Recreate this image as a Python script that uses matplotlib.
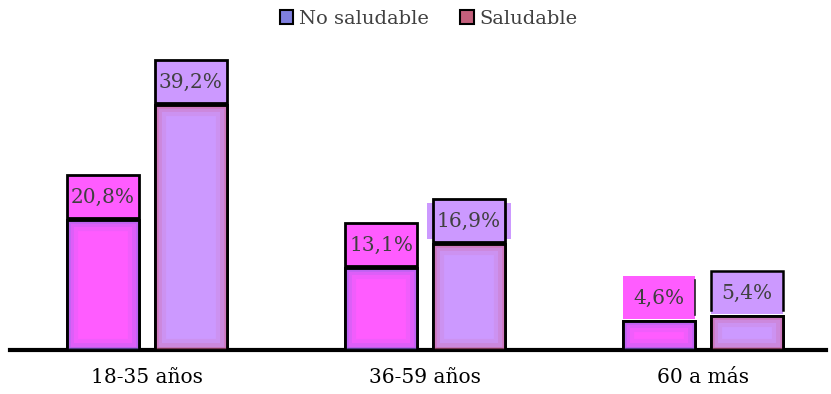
import matplotlib
matplotlib.use("Agg")
import matplotlib.pyplot as plt
from matplotlib.patches import Rectangle, Patch
import numpy as np

# Data
categories = ["18-35 años", "36-59 años", "60 a más"]
saludable = [20.8, 13.1, 4.6]
no_saludable = [39.2, 16.9, 5.4]

# Colours
PINK = "#FF5CFF"
LAVENDER = "#CC99FF"
PINK_GLOW = "#8E6AE8"
LAV_GLOW = "#D0608E"
LEG_NO = "#7F7FDF"
LEG_SI = "#C4607C"
TEXT = "#404040"

plt.rcParams["font.family"] = ["DejaVu Serif"]

W, H = 831, 394
fig = plt.figure(figsize=(W / 100, H / 100), dpi=100)
ax = fig.add_axes([10 / W, 44 / H, 816 / W, 300 / H])

x = np.arange(len(categories))
width = 0.259
off = 0.158
px = 48 / 300  # data units per pixel on the y axis


def glow(bar, colour):
    """Soft inner shading along the bar edges."""
    for lw, a in [(16, 0.12), (10, 0.2), (5, 0.3), (2.5, 0.45)]:
        r = Rectangle(bar.get_xy(), bar.get_width(), bar.get_height(),
                      facecolor="none", edgecolor=colour, linewidth=lw,
                      alpha=a, zorder=3)
        ax.add_patch(r)
        r.set_clip_path(bar)


def label_box(bar, value, colour, border="full"):
    bx = bar.get_x()
    bw = bar.get_width()
    y0 = value + 2 * px
    h = 43 * px
    ax.add_patch(Rectangle((bx, y0), bw, h, facecolor=colour,
                           edgecolor="none", zorder=4))
    if border == "full":
        ax.add_patch(Rectangle((bx, y0), bw, h, facecolor="none",
                               edgecolor="black", linewidth=2, zorder=5))
    elif border == "open":
        ax.plot([bx, bx, bx + bw, bx + bw], [y0 + 4 * px, y0 + h, y0 + h, y0 + 4 * px],
                color="black", lw=1.8, zorder=5, solid_joinstyle="miter")
    elif border == "right":
        ax.plot([bx + bw, bx + bw], [y0 + 4 * px, y0 + h - 4 * px],
                color="#222222", lw=1.2, zorder=5)
    ax.text(bx + bw / 2, y0 + h / 2 - 1 * px,
            f"{value:.1f}%".replace(".", ","), ha="center", va="center",
            fontsize=14.5, color=TEXT, zorder=6)


bars_si = ax.bar(x - off, saludable, width, color=PINK, edgecolor="black",
                 linewidth=2, zorder=2)
bars_no = ax.bar(x + off, no_saludable, width, color=LAVENDER,
                 edgecolor="black", linewidth=2, zorder=2)

for b in bars_si:
    glow(b, PINK_GLOW)
for b in bars_no:
    glow(b, LAV_GLOW)
for b in list(bars_si) + list(bars_no):
    ax.add_patch(Rectangle(b.get_xy(), b.get_width(), b.get_height(),
                           facecolor="none", edgecolor="black", linewidth=2,
                           zorder=4))

borders_si = ["full", "full", "right"]
borders_no = ["full", "full", "open"]
for b, v, s in zip(bars_si, saludable, borders_si):
    label_box(b, v, PINK, s)
for b, v, s in zip(bars_no, no_saludable, borders_no):
    label_box(b, v, LAVENDER, s)

# wider lavender backdrop behind the middle label
b = bars_no[1]
ax.add_patch(Rectangle((b.get_x() - 6 / 278, no_saludable[1] + 5 * px),
                       b.get_width() + 12 / 278, 36 * px,
                       facecolor=LAVENDER, edgecolor="none", zorder=3.9))

ax.set_xlim(-137 / 278, 2 + 123 / 278)
ax.set_ylim(0, 48)
ax.set_xticks(x, categories)
ax.tick_params(axis="x", length=0, pad=13, labelsize=14.5, labelcolor="black")
ax.set_yticks([])
for s in ["top", "left", "right"]:
    ax.spines[s].set_visible(False)
ax.spines["bottom"].set_linewidth(3)
ax.spines["bottom"].set_color("black")
ax.set_facecolor("none")

handles = [Patch(facecolor=LEG_NO, edgecolor="black", linewidth=1.5, label="No saludable"),
           Patch(facecolor=LEG_SI, edgecolor="black", linewidth=1.5, label="Saludable")]
fig.legend(handles=handles, loc="upper center", bbox_to_anchor=(0.516, 1.02),
           ncol=2, frameon=False, fontsize=14, handlelength=0.7,
           handleheight=0.7, handletextpad=0.3, columnspacing=1.6,
           labelcolor=TEXT)

fig.savefig("out.png", dpi=100)
